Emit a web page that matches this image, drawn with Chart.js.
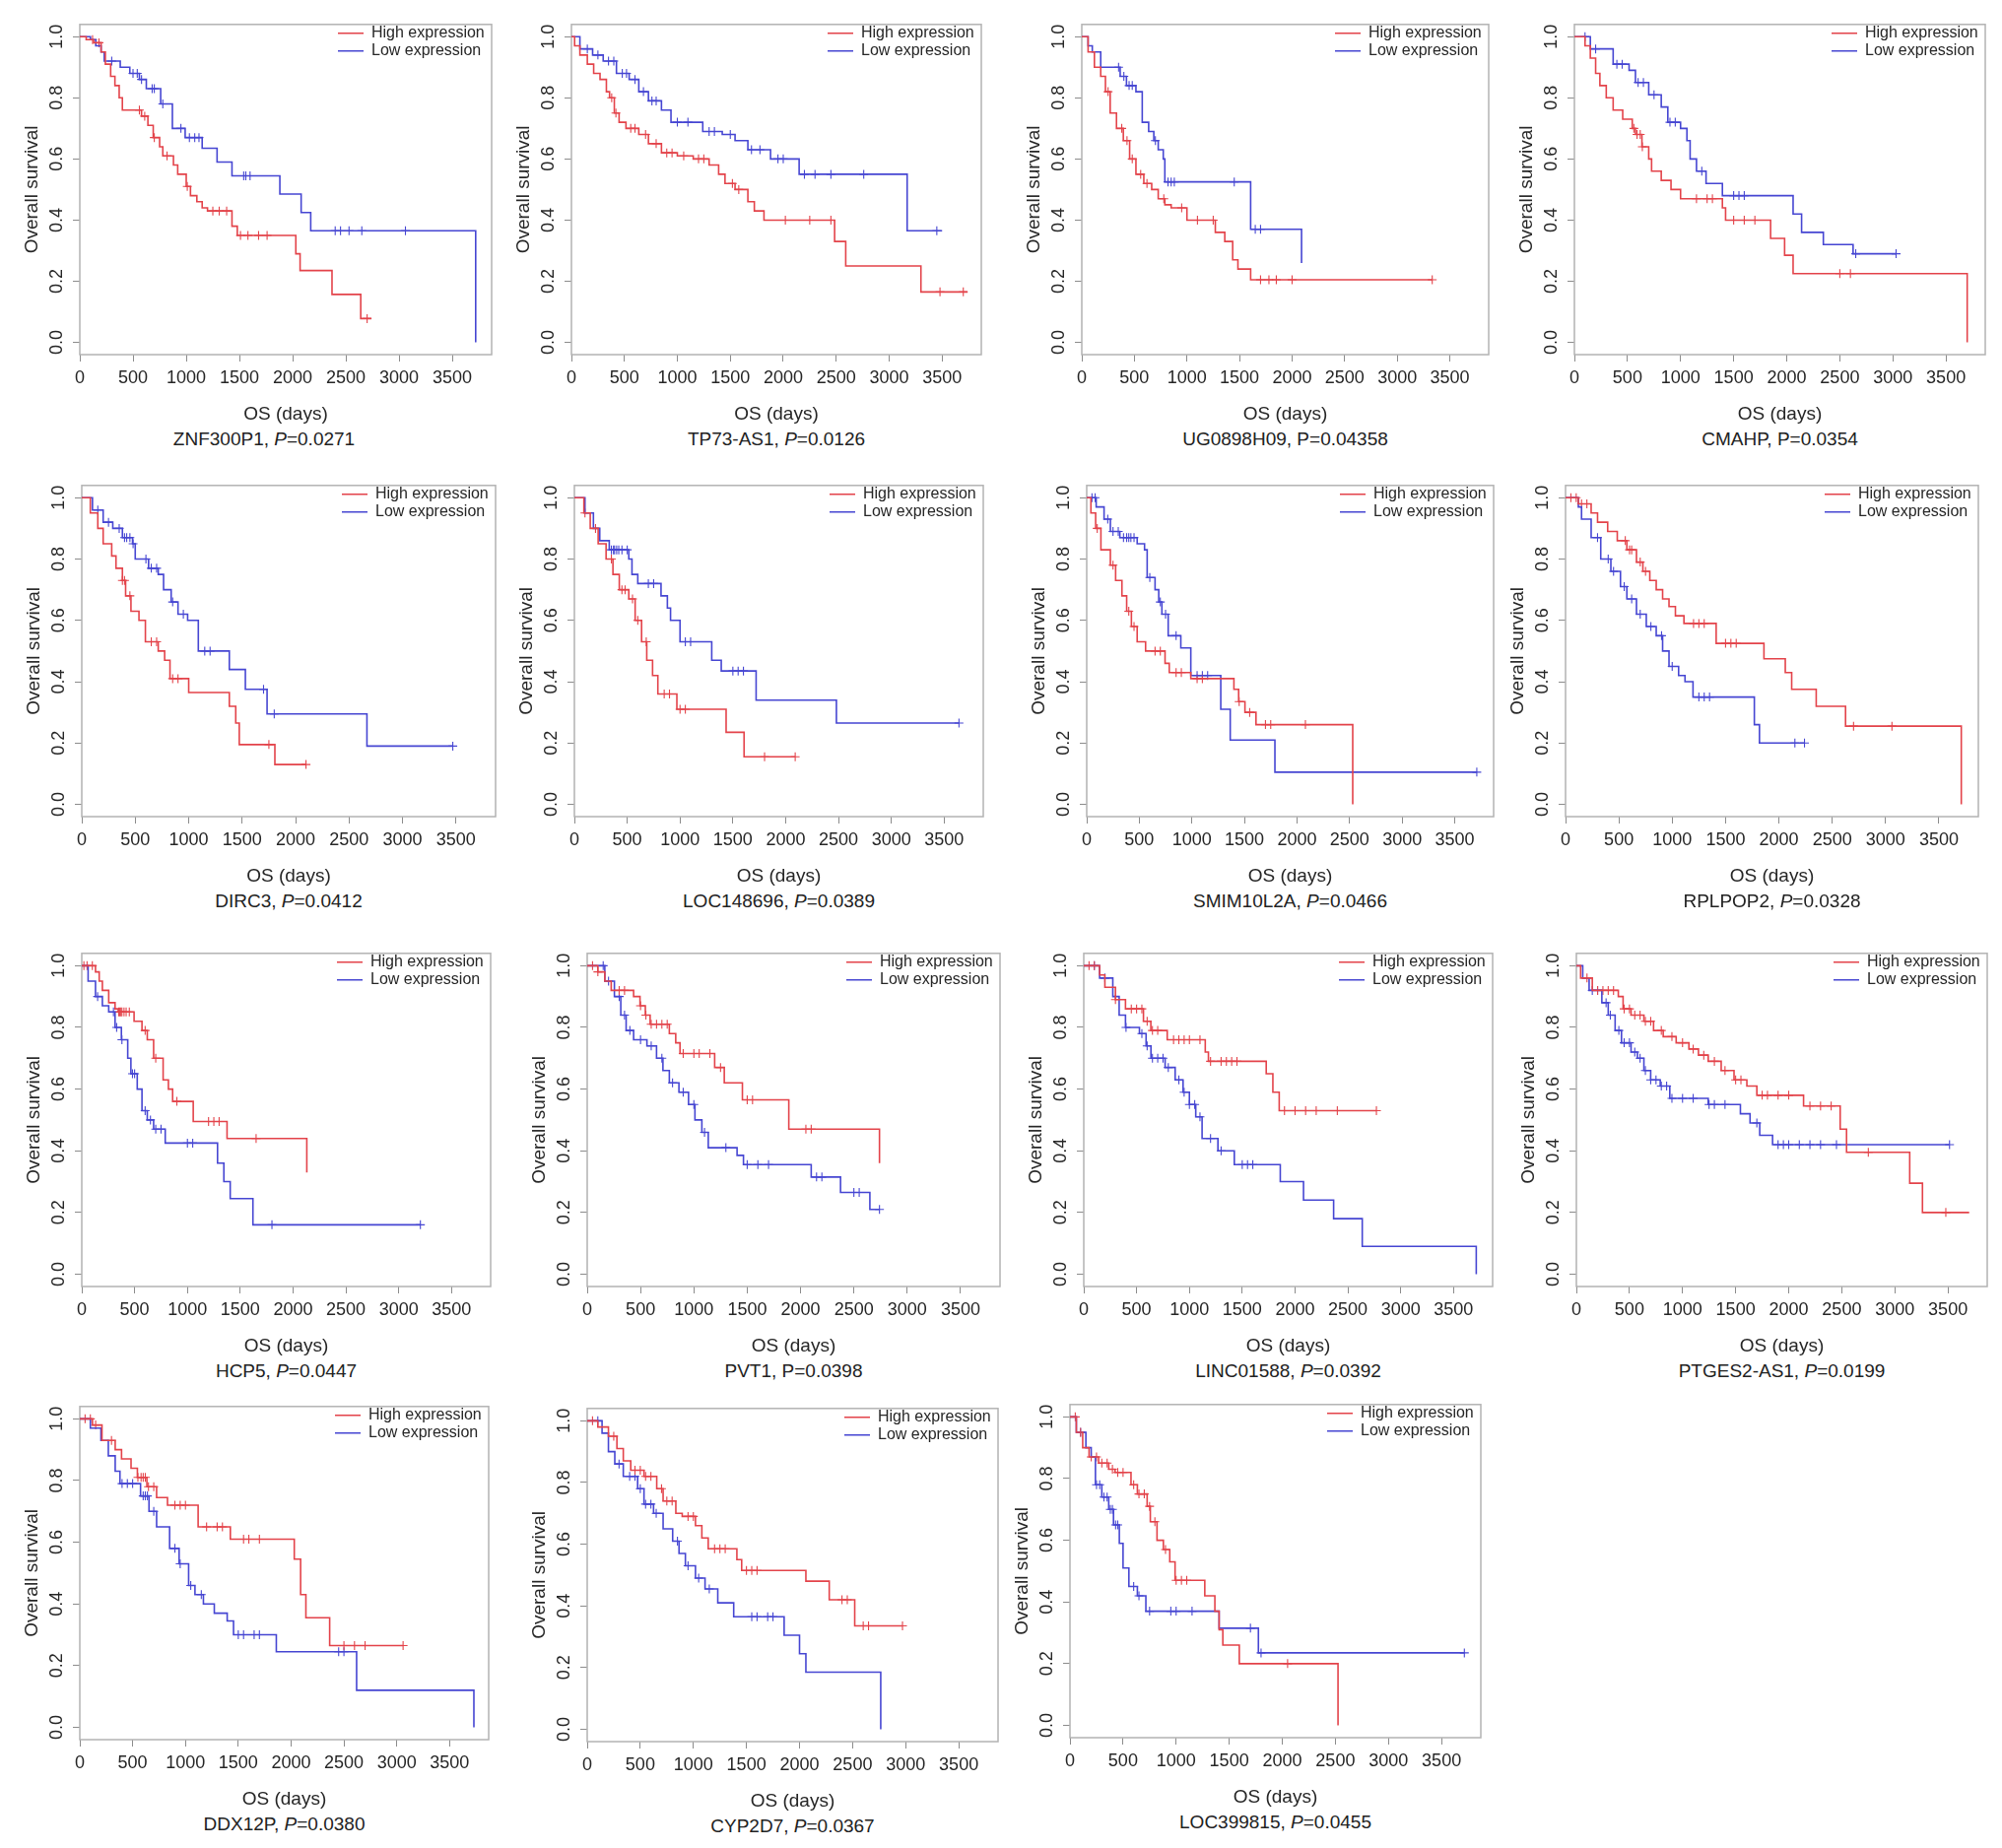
<!DOCTYPE html>
<html>
<head>
<meta charset="utf-8">
<script src="https://cdn.jsdelivr.net/npm/chart.js@4.4.1/dist/chart.umd.min.js"></script>
<style>
  html, body { margin: 0; padding: 0; background: #fff; }
  #page { position: relative; width: 2032px; height: 1876px; overflow: hidden; }
  .panel { position: absolute; }
  .cap { position: absolute; text-align: center; font: 19px "Liberation Sans", Arial, sans-serif; color: #222; line-height: 24px; white-space: nowrap; }
</style>
</head>
<body>
<div id="page"></div>
<script>
// panel titles
const genes = ['ZNF300P1', 'TP73-AS1', 'UG0898H09', 'CMAHP', 'DIRC3', 'LOC148696', 'SMIM10L2A', 'RPLPOP2',
  'HCP5', 'PVT1', 'LINC01588', 'PTGES2-AS1', 'DDX12P', 'CYP2D7', 'LOC399815'];
const pValues = ['0.0271', '0.0126', '0.04358', '0.0354', '0.0412', '0.0389', '0.0466', '0.0328',
  '0.0447', '0.0398', '0.0392', '0.0199', '0.0380', '0.0367', '0.0455'];
const italicP = [true, true, false, false, true, true, true, true, true, false, true, true, true, true, true];

const xTickValues = [0, 500, 1000, 1500, 2000, 2500, 3000, 3500];
const yTickValues = [0, 0.2, 0.4, 0.6, 0.8, 1.0];

// [time, survival after drop]; censor marks are times
const znfHigh = [[0,1],[60,0.99],[130,0.98],[200,0.95],[240,0.91],[290,0.87],[330,0.84],[370,0.80],[400,0.76],[580,0.74],[640,0.71],[690,0.67],[750,0.64],[780,0.61],[880,0.58],[920,0.55],[1000,0.51],[1040,0.48],[1100,0.46],[1150,0.44],[1200,0.43],[1430,0.38],[1480,0.35],[2030,0.29],[2070,0.235],[2370,0.157],[2640,0.078],[2740,0.078]];
const znfHighCens = [120, 180, 560, 610, 700, 820, 1010, 1250, 1310, 1380, 1510, 1580, 1680, 1760, 2700];
const znfLow = [[0,1],[100,0.99],[150,0.97],[200,0.95],[230,0.92],[380,0.90],[470,0.88],[560,0.86],[625,0.83],[760,0.78],[870,0.70],[990,0.67],[1150,0.635],[1290,0.59],[1430,0.545],[1880,0.485],[2080,0.425],[2170,0.365],[3720,0]];
const znfLowCens = [300, 500, 540, 580, 680, 700, 780, 950, 1030, 1080, 1120, 1540, 1560, 1600, 2400, 2450, 2530, 2650, 3060];

const tp73High = [[0,1],[30,0.97],[80,0.94],[150,0.91],[210,0.88],[270,0.86],[330,0.82],[360,0.80],[405,0.75],[450,0.72],[515,0.70],[636,0.68],[727,0.65],[850,0.62],[1000,0.61],[1150,0.60],[1300,0.58],[1390,0.55],[1450,0.52],[1545,0.50],[1666,0.46],[1727,0.43],[1818,0.40],[2485,0.33],[2590,0.25],[3300,0.165],[3740,0.165]];
const tp73HighCens = [380, 420, 560, 600, 700, 800, 900, 950, 1060, 1200, 1250, 1520, 1580, 2020, 2250, 2450, 3480, 3700];
const tp73Low = [[0,1],[80,0.96],[200,0.94],[300,0.92],[425,0.88],[545,0.86],[636,0.82],[727,0.79],[850,0.76],[940,0.72],[1240,0.69],[1424,0.68],[1545,0.66],[1666,0.63],[1880,0.60],[2150,0.55],[3170,0.365],[3500,0.365]];
const tp73LowCens = [150, 250, 350, 400, 480, 520, 600, 680, 760, 800, 1000, 1100, 1300, 1350, 1500, 1700, 1780, 1950, 2000, 2200, 2300, 2450, 2760, 3450];

const ugHigh = [[0,1],[60,0.95],[120,0.90],[180,0.87],[225,0.82],[270,0.75],[330,0.70],[395,0.66],[455,0.60],[515,0.55],[590,0.52],[665,0.50],[727,0.47],[790,0.45],[850,0.44],[1000,0.40],[1270,0.36],[1360,0.33],[1435,0.27],[1485,0.24],[1606,0.205],[3333,0.205]];
const ugHighCens = [250, 380, 430, 480, 560, 620, 780, 950, 1100, 1250, 1700, 1780, 1850, 2000, 3333];
const ugLow = [[0,1],[60,0.97],[100,0.95],[180,0.90],[365,0.87],[425,0.84],[515,0.82],[575,0.72],[636,0.69],[685,0.66],[727,0.63],[775,0.60],[790,0.525],[1606,0.37],[2090,0.26]];
const ugLowCens = [350, 400, 450, 480, 700, 820, 850, 880, 1450, 1650, 1700];

const cmahpHigh = [[0,1],[100,0.97],[150,0.93],[200,0.88],[240,0.84],[300,0.80],[365,0.76],[455,0.73],[545,0.70],[575,0.68],[636,0.64],[700,0.60],[727,0.56],[818,0.53],[910,0.50],[1000,0.47],[1394,0.44],[1424,0.40],[1848,0.34],[1980,0.285],[2060,0.225],[3700,0]];
const cmahpHighCens = [560, 590, 620, 640, 1150, 1250, 1300, 1500, 1600, 1700, 2500, 2600];
const cmahpLow = [[0,1],[150,0.96],[365,0.91],[515,0.89],[575,0.85],[700,0.81],[818,0.77],[880,0.72],[1000,0.70],[1060,0.66],[1090,0.60],[1150,0.56],[1240,0.52],[1394,0.48],[2060,0.42],[2140,0.36],[2345,0.32],[2625,0.29],[3030,0.29]];
const cmahpLowCens = [100, 200, 400, 450, 600, 650, 750, 900, 950, 1200, 1500, 1550, 1600, 2650, 3030];

const dircHigh = [[0,1],[80,0.95],[150,0.90],[200,0.85],[280,0.81],[320,0.77],[380,0.73],[410,0.68],[460,0.63],[535,0.60],[595,0.53],[715,0.50],[775,0.47],[825,0.41],[1000,0.365],[1380,0.32],[1440,0.265],[1473,0.195],[1806,0.13],[2097,0.13]];
const dircHighCens = [380, 400, 450, 650, 700, 850, 900, 1750, 2097];
const dircLow = [[0,1],[100,0.96],[200,0.92],[290,0.90],[380,0.87],[475,0.85],[500,0.80],[625,0.77],[715,0.75],[765,0.70],[836,0.66],[900,0.62],[990,0.60],[1090,0.50],[1380,0.44],[1530,0.375],[1733,0.295],[2667,0.19],[3470,0.19]];
const dircLowCens = [150, 250, 350, 400, 420, 450, 480, 600, 650, 700, 850, 950, 1150, 1200, 1700, 1800, 3470];

const loc148High = [[0,1],[90,0.95],[150,0.90],[225,0.85],[300,0.80],[365,0.75],[425,0.70],[515,0.67],[575,0.60],[636,0.53],[685,0.47],[740,0.42],[790,0.36],[970,0.31],[1436,0.235],[1606,0.155],[2090,0.155]];
const loc148HighCens = [100, 200, 350, 450, 480, 550, 600, 680, 850, 900, 1000, 1050, 1800, 2090];
const loc148Low = [[0,1],[100,0.95],[180,0.90],[240,0.86],[330,0.83],[515,0.80],[545,0.75],[600,0.72],[820,0.68],[880,0.64],[910,0.60],[1000,0.53],[1300,0.47],[1390,0.435],[1720,0.34],[2480,0.265],[3640,0.265]];
const loc148LowCens = [350, 370, 380, 400, 420, 450, 500, 700, 750, 1050, 1100, 1500, 1550, 1600, 3640];

const smimHigh = [[0,1],[40,0.95],[85,0.90],[135,0.83],[225,0.78],[275,0.73],[335,0.68],[380,0.63],[425,0.58],[480,0.53],[560,0.50],[745,0.46],[785,0.43],[990,0.41],[1400,0.375],[1445,0.335],[1505,0.30],[1610,0.26],[2530,0]];
const smimHighCens = [100, 250, 400, 450, 650, 700, 850, 900, 1050, 1100, 1450, 1550, 1700, 1750, 2080];
const smimLow = [[0,1],[90,0.97],[165,0.93],[225,0.89],[315,0.87],[480,0.85],[550,0.83],[575,0.74],[650,0.70],[685,0.66],[715,0.62],[775,0.55],[895,0.51],[990,0.42],[1275,0.31],[1365,0.21],[1790,0.105],[3710,0.105]];
const smimLowCens = [50, 80, 200, 250, 300, 350, 380, 400, 420, 450, 600, 700, 750, 850, 1050, 1100, 1150, 3710];

const rplpHigh = [[0,1],[120,0.98],[240,0.95],[300,0.92],[395,0.89],[485,0.86],[575,0.83],[665,0.79],[725,0.76],[790,0.73],[850,0.70],[910,0.67],[970,0.645],[1030,0.615],[1110,0.59],[1412,0.525],[1860,0.475],[2060,0.43],[2120,0.375],[2350,0.32],[2625,0.255],[3710,0]];
const rplpHighCens = [50, 100, 150, 200, 560, 600, 620, 700, 750, 1200, 1250, 1300, 1500, 1550, 1600, 2700, 3060];
const rplpLow = [[0,1],[120,0.97],[150,0.93],[240,0.87],[330,0.80],[425,0.76],[515,0.71],[575,0.67],[665,0.62],[757,0.58],[850,0.55],[910,0.50],[970,0.45],[1060,0.42],[1120,0.40],[1195,0.35],[1770,0.26],[1818,0.20],[2240,0.20]];
const rplpLowCens = [300, 400, 450, 550, 620, 700, 800, 900, 1000, 1250, 1300, 1350, 2150, 2240];

const hcpHigh = [[0,1],[130,0.98],[165,0.95],[195,0.92],[255,0.88],[315,0.86],[345,0.85],[495,0.82],[570,0.79],[620,0.76],[680,0.70],[770,0.63],[820,0.60],[860,0.56],[1055,0.495],[1375,0.44],[2130,0.33]];
const hcpHighCens = [20, 50, 100, 350, 360, 370, 380, 400, 420, 450, 600, 700, 900, 1200, 1250, 1300, 1650];
const hcpLow = [[0,1],[60,0.95],[130,0.90],[195,0.87],[255,0.85],[315,0.80],[375,0.76],[435,0.70],[465,0.65],[525,0.60],[570,0.53],[620,0.50],[680,0.47],[790,0.425],[1285,0.36],[1345,0.30],[1405,0.245],[1620,0.16],[3205,0.16]];
const hcpLowCens = [150, 300, 330, 380, 480, 500, 600, 650, 700, 750, 1000, 1050, 1800, 3205];

const pvtHigh = [[0,1],[100,0.98],[165,0.95],[225,0.92],[435,0.90],[495,0.87],[545,0.84],[590,0.81],[770,0.78],[830,0.75],[870,0.715],[1195,0.67],[1285,0.62],[1455,0.565],[1890,0.47],[2740,0.36]];
const pvtHighCens = [50, 100, 300, 350, 500, 550, 600, 650, 700, 750, 900, 1000, 1050, 1150, 1250, 1500, 1550, 2050, 2100];
const pvtLow = [[0,1],[165,0.95],[255,0.90],[315,0.84],[365,0.79],[435,0.76],[560,0.74],[650,0.70],[710,0.66],[770,0.62],[860,0.59],[950,0.55],[1010,0.50],[1075,0.46],[1135,0.41],[1405,0.385],[1465,0.355],[2100,0.315],[2375,0.265],[2650,0.21],[2740,0.21]];
const pvtLowCens = [150, 200, 300, 350, 400, 500, 600, 700, 800, 900, 1000, 1100, 1300, 1500, 1600, 1700, 2150, 2200, 2500, 2550, 2740];

const lincHigh = [[0,1],[150,0.97],[200,0.93],[300,0.89],[395,0.86],[565,0.82],[635,0.79],[790,0.76],[1150,0.72],[1180,0.69],[1727,0.65],[1790,0.59],[1850,0.53],[2770,0.53]];
const lincHighCens = [50, 100, 300, 450, 500, 550, 600, 650, 700, 850, 900, 950, 1000, 1100, 1200, 1300, 1350, 1400, 1450, 1900, 2000, 2100, 2200, 2400, 2770];
const lincLow = [[0,1],[150,0.96],[275,0.90],[335,0.84],[395,0.80],[527,0.78],[590,0.74],[636,0.70],[770,0.67],[865,0.63],[940,0.59],[1000,0.55],[1060,0.51],[1120,0.44],[1270,0.40],[1425,0.355],[1860,0.30],[2080,0.24],[2365,0.18],[2636,0.09],[3715,0]];
const lincLowCens = [100, 200, 400, 550, 600, 650, 700, 750, 800, 900, 950, 1000, 1050, 1100, 1200, 1300, 1500, 1550, 1600];

const ptgesHigh = [[0,1],[40,0.96],[150,0.92],[395,0.90],[440,0.86],[515,0.84],[636,0.82],[727,0.79],[818,0.77],[940,0.75],[1060,0.73],[1150,0.71],[1242,0.69],[1364,0.66],[1485,0.63],[1606,0.61],[1700,0.58],[2140,0.545],[2485,0.47],[2545,0.395],[3140,0.295],[3260,0.20],[3700,0.20]];
const ptgesHighCens = [100, 200, 250, 300, 350, 450, 500, 550, 600, 650, 700, 800, 900, 1000, 1100, 1200, 1300, 1400, 1500, 1550, 1750, 1800, 1900, 2000, 2200, 2300, 2400, 2750, 3480];
const ptgesLow = [[0,1],[60,0.96],[120,0.92],[240,0.88],[300,0.84],[365,0.79],[425,0.75],[515,0.72],[575,0.70],[636,0.66],[700,0.63],[790,0.61],[880,0.57],[1242,0.55],[1545,0.52],[1636,0.49],[1727,0.45],[1848,0.42],[3515,0.42]];
const ptgesLowCens = [150, 200, 280, 320, 400, 450, 500, 550, 600, 650, 700, 750, 800, 850, 900, 1000, 1100, 1250, 1300, 1400, 1700, 1900, 1950, 2000, 2100, 2200, 2300, 2450, 3515];

const ddxHigh = [[0,1],[120,0.98],[210,0.93],[335,0.90],[395,0.87],[485,0.84],[545,0.81],[635,0.78],[727,0.745],[830,0.72],[1120,0.65],[1425,0.61],[2030,0.545],[2090,0.43],[2140,0.355],[2365,0.265],[3060,0.265]];
const ddxHighCens = [50, 100, 150, 300, 550, 580, 600, 620, 650, 700, 900, 950, 1000, 1200, 1300, 1350, 1550, 1600, 1700, 2500, 2600, 2700, 3060];
const ddxLow = [[0,1],[100,0.97],[200,0.93],[270,0.88],[335,0.83],[380,0.79],[575,0.75],[655,0.70],[727,0.65],[850,0.58],[940,0.53],[1030,0.46],[1090,0.43],[1170,0.40],[1273,0.37],[1395,0.345],[1455,0.30],[1860,0.245],[2620,0.12],[3730,0]];
const ddxLowCens = [400, 450, 500, 600, 620, 640, 700, 900, 950, 1050, 1150, 1500, 1550, 1650, 1700, 2450, 2500];

const cypHigh = [[0,1],[100,0.98],[200,0.95],[280,0.91],[340,0.87],[410,0.84],[535,0.82],[655,0.78],[715,0.74],[835,0.70],[895,0.69],[1020,0.66],[1080,0.62],[1140,0.585],[1410,0.55],[1455,0.515],[2060,0.48],[2280,0.42],[2520,0.335],[2970,0.335]];
const cypHighCens = [50, 250, 450, 500, 550, 600, 700, 750, 800, 950, 1000, 1200, 1250, 1300, 1500, 1550, 1600, 2400, 2450, 2600, 2650, 2970];
const cypLow = [[0,1],[140,0.96],[200,0.90],[260,0.86],[340,0.82],[475,0.78],[535,0.73],[625,0.70],[715,0.65],[805,0.61],[865,0.57],[925,0.53],[1020,0.49],[1110,0.455],[1230,0.41],[1380,0.365],[1855,0.305],[2000,0.245],[2060,0.185],[2765,0]];
const cypLowCens = [100, 300, 400, 450, 500, 550, 600, 650, 850, 950, 1050, 1150, 1550, 1600, 1700, 1750];

const loc399High = [[0,1],[60,0.95],[120,0.90],[180,0.87],[270,0.85],[365,0.83],[425,0.82],[575,0.78],[635,0.75],[727,0.71],[757,0.66],[820,0.60],[880,0.57],[940,0.53],[990,0.47],[1270,0.42],[1365,0.37],[1405,0.31],[1440,0.26],[1595,0.20],[2525,0]];
const loc399HighCens = [50, 100, 200, 250, 300, 350, 400, 450, 500, 600, 650, 700, 750, 800, 900, 1000, 1050, 1100, 2050];
const loc399Low = [[0,1],[60,0.95],[150,0.90],[200,0.87],[240,0.78],[300,0.74],[365,0.70],[410,0.65],[465,0.59],[500,0.51],[555,0.45],[635,0.42],[715,0.37],[1405,0.315],[1775,0.235],[3715,0.235]];
const loc399LowCens = [100, 250, 280, 320, 350, 380, 400, 430, 450, 600, 650, 750, 950, 1000, 1150, 1700, 1800, 3715];

const highCurves = [znfHigh, tp73High, ugHigh, cmahpHigh, dircHigh, loc148High, smimHigh, rplpHigh, hcpHigh, pvtHigh, lincHigh, ptgesHigh, ddxHigh, cypHigh, loc399High];
const highCens = [znfHighCens, tp73HighCens, ugHighCens, cmahpHighCens, dircHighCens, loc148HighCens, smimHighCens, rplpHighCens, hcpHighCens, pvtHighCens, lincHighCens, ptgesHighCens, ddxHighCens, cypHighCens, loc399HighCens];
const lowCurves = [znfLow, tp73Low, ugLow, cmahpLow, dircLow, loc148Low, smimLow, rplpLow, hcpLow, pvtLow, lincLow, ptgesLow, ddxLow, cypLow, loc399Low];
const lowCens = [znfLowCens, tp73LowCens, ugLowCens, cmahpLowCens, dircLowCens, loc148LowCens, smimLowCens, rplpLowCens, hcpLowCens, pvtLowCens, lincLowCens, ptgesLowCens, ddxLowCens, cypLowCens, loc399LowCens];

// plot box of each panel on the page: left, top, right, bottom
const boxes = [
  [81, 19, 499, 360], [580, 19, 996, 360], [1098, 19, 1511, 360], [1598, 19, 2015, 360],
  [83, 487, 503, 829], [583, 487, 998, 829], [1103, 487, 1516, 829], [1589, 487, 2008, 829],
  [83, 962, 498, 1306], [596, 962, 1015, 1306], [1100, 962, 1515, 1306], [1600, 962, 2017, 1306],
  [81, 1422, 496, 1766], [596, 1424, 1013, 1768], [1086, 1420, 1503, 1764]
];
// caption nudges (px) where the source caption is off centre
const capShift = [-22, 0, 0, 0, 0, 0, 0, 0, 0, 0, 0, 0, 0, 0, 0];

const RED = '#e3434a';
const BLUE = '#4646d2';
const TXT = '#262626';
const FONT = '"Liberation Sans", Arial, sans-serif';
const AXW = 70, AXH = 74, PADT = 8, PADR = 8;

Chart.defaults.font.family = FONT;
Chart.defaults.color = TXT;

function survAt(curve, t) {
  let s = curve[0][1];
  for (const p of curve) { if (p[0] <= t) s = p[1]; else break; }
  return s;
}

const boxPlugin = {
  id: 'plotBox',
  beforeDatasetsDraw(chart) {
    const a = chart.chartArea, ctx = chart.ctx;
    ctx.save();
    ctx.strokeStyle = '#b3b3b3';
    ctx.lineWidth = 1.5;
    ctx.strokeRect(a.left, a.top, a.right - a.left, a.bottom - a.top);
    ctx.restore();
  }
};

// move the legend into the top right corner of the plot box
const legendPlace = {
  id: 'legendPlace',
  afterLayout(chart) {
    const lg = chart.legend, a = chart.chartArea;
    if (!lg) return;
    lg.left = a.right - 158;
    lg.right = lg.left + lg.width;
    lg.top = a.top - 1;
    lg.bottom = lg.top + 50;
  }
};

const page = document.getElementById('page');

genes.forEach((gene, i) => {
  const [L, T, R, B] = boxes[i];
  const div = document.createElement('div');
  div.className = 'panel';
  div.style.left = (L - AXW) + 'px';
  div.style.top = (T - PADT) + 'px';
  div.style.width = (AXW + (R - L) + PADR) + 'px';
  div.style.height = (PADT + (B - T) + AXH) + 'px';
  const cv = document.createElement('canvas');
  div.appendChild(cv);
  page.appendChild(div);

  const cap = document.createElement('div');
  cap.className = 'cap';
  cap.style.left = (L - 60 + capShift[i]) + 'px';
  cap.style.width = (R - L + 120) + 'px';
  cap.style.top = (B + AXH) + 'px';
  cap.appendChild(document.createTextNode(gene + ', '));
  if (italicP[i]) {
    const it = document.createElement('i');
    it.textContent = 'P';
    cap.appendChild(it);
    cap.appendChild(document.createTextNode('=' + pValues[i]));
  } else {
    cap.appendChild(document.createTextNode('P=' + pValues[i]));
  }
  page.appendChild(cap);

  const hi = highCurves[i], lo = lowCurves[i];
  new Chart(cv, {
    type: 'line',
    data: {
      datasets: [
        { label: 'High expression', data: hi.map(p => ({x: p[0], y: p[1]})), borderColor: RED, backgroundColor: RED,
          borderWidth: 1.6, stepped: 'before', pointRadius: 0, fill: false },
        { label: 'Low expression', data: lo.map(p => ({x: p[0], y: p[1]})), borderColor: BLUE, backgroundColor: BLUE,
          borderWidth: 1.6, stepped: 'before', pointRadius: 0, fill: false },
        { label: 'cens-high', data: highCens[i].map(t => ({x: t, y: survAt(hi, t)})), showLine: false,
          pointStyle: 'cross', pointRadius: 4.5, borderColor: RED, borderWidth: 1.1 },
        { label: 'cens-low', data: lowCens[i].map(t => ({x: t, y: survAt(lo, t)})), showLine: false,
          pointStyle: 'cross', pointRadius: 4.5, borderColor: BLUE, borderWidth: 1.1 }
      ]
    },
    options: {
      responsive: true,
      maintainAspectRatio: false,
      devicePixelRatio: 1,
      animation: false,
      events: [],
      layout: { autoPadding: false, padding: { left: 0, top: PADT, right: PADR, bottom: 0 } },
      plugins: {
        tooltip: { enabled: false },
        legend: {
          position: 'chartArea',
          align: 'start',
          labels: {
            filter: item => item.datasetIndex < 2,
            usePointStyle: true,
            pointStyle: 'line',
            pointStyleWidth: 26,
            padding: 2,
            color: TXT,
            font: { size: 16 }
          }
        }
      },
      scales: {
        x: {
          type: 'linear',
          min: 0,
          max: 3870,
          afterBuildTicks: s => { s.ticks = xTickValues.map(v => ({value: v})); },
          afterFit: s => { s.height = AXH; },
          ticks: { font: { size: 18 }, color: TXT, padding: 6, maxRotation: 0, callback: v => String(v) },
          grid: { display: true, drawOnChartArea: false, drawTicks: true, tickLength: 7, color: '#8c8c8c' },
          border: { display: false },
          title: { display: true, text: 'OS (days)', font: { size: 19 }, color: TXT, padding: { top: 0, bottom: 2 } }
        },
        y: {
          min: -0.04,
          max: 1.04,
          afterBuildTicks: s => { s.ticks = yTickValues.map(v => ({value: v})); },
          afterFit: s => { s.width = AXW; },
          ticks: { font: { size: 18 }, color: TXT, padding: 3, minRotation: 90, maxRotation: 90, crossAlign: 'center',
            callback: v => Number(v).toFixed(1) },
          grid: { display: true, drawOnChartArea: false, drawTicks: true, tickLength: 7, color: '#8c8c8c' },
          border: { display: false },
          title: { display: true, text: 'Overall survival', font: { size: 19 }, color: TXT, padding: { top: 10, bottom: 0 } }
        }
      }
    },
    plugins: [boxPlugin, legendPlace]
  });
});
</script>
</body>
</html>
